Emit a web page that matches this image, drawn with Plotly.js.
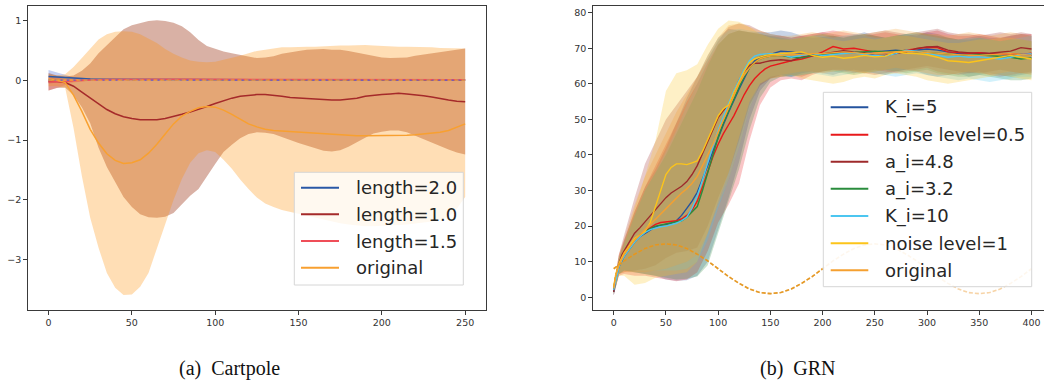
<!DOCTYPE html>
<html><head><meta charset="utf-8">
<script src="https://cdn.plot.ly/plotly-3.0.1.min.js"></script>
<style>html,body{margin:0;padding:0;background:#fff;} #chart{width:1044px;height:385px;}</style>
</head><body><div id="chart"></div>
<script>
// ---------- Left panel (Cartpole) ----------
const xl = [0,5,10,15,20,25,30,35,40,45,50,55,60,65,70,75,80,85,90,95,100,105,110,115,120,125,130,135,140,145,150,155,160,165,170,175,180,185,190,195,200,205,210,215,220,225,230,235,240,245,250];
const len20Mean = [0.06,0.05,0.04,0.03,0.025,0.02,0.018,0.016,0.015,0.014,0.013,0.013,0.012,0.012,0.012,0.011,0.011,0.011,0.01,0.01,0.01,0.01,0.01,0.01,0.01,0.01,0.01,0.01,0.01,0.01,0.01,0.01,0.01,0.01,0.009,0.009,0.009,0.009,0.008,0.008,0.008,0.008,0.007,0.007,0.007,0.006,0.006,0.006,0.005,0.005,0.005];
const len10Mean = [-0.02,-0.02,-0.04,-0.1,-0.2,-0.3,-0.4,-0.49,-0.56,-0.61,-0.64,-0.66,-0.66,-0.66,-0.64,-0.61,-0.57,-0.53,-0.49,-0.44,-0.39,-0.34,-0.3,-0.27,-0.25,-0.24,-0.24,-0.25,-0.27,-0.29,-0.3,-0.31,-0.32,-0.33,-0.33,-0.33,-0.32,-0.3,-0.27,-0.25,-0.24,-0.23,-0.22,-0.23,-0.24,-0.26,-0.28,-0.31,-0.33,-0.35,-0.36];
const len15Mean = [-0.03,-0.03,-0.02,-0.01,0.0,0.005,0.008,0.01,0.012,0.013,0.014,0.015,0.015,0.015,0.015,0.015,0.015,0.015,0.015,0.015,0.015,0.015,0.015,0.015,0.015,0.015,0.014,0.014,0.014,0.014,0.014,0.014,0.013,0.013,0.013,0.013,0.012,0.012,0.012,0.012,0.011,0.011,0.011,0.01,0.01,0.01,0.009,0.009,0.008,0.008,0.008];
const origMeanL = [0.02,0.0,-0.04,-0.25,-0.52,-0.82,-1.05,-1.23,-1.34,-1.39,-1.38,-1.33,-1.22,-1.07,-0.9,-0.73,-0.6,-0.52,-0.46,-0.44,-0.45,-0.5,-0.57,-0.65,-0.73,-0.78,-0.82,-0.84,-0.85,-0.86,-0.87,-0.88,-0.89,-0.9,-0.91,-0.92,-0.92,-0.93,-0.93,-0.93,-0.93,-0.93,-0.92,-0.92,-0.91,-0.9,-0.89,-0.87,-0.84,-0.79,-0.73];
const len10Up = [0.12,0.08,0.06,0.08,0.16,0.28,0.45,0.58,0.72,0.85,0.92,0.96,0.99,1.0,0.99,0.96,0.9,0.8,0.67,0.57,0.52,0.48,0.45,0.42,0.39,0.37,0.38,0.4,0.44,0.47,0.49,0.51,0.52,0.52,0.51,0.51,0.49,0.46,0.43,0.4,0.38,0.37,0.37,0.38,0.41,0.43,0.45,0.48,0.5,0.52,0.53];
const len10Low = [-0.17,-0.13,-0.12,-0.25,-0.45,-0.72,-1.13,-1.45,-1.7,-1.95,-2.12,-2.24,-2.29,-2.3,-2.28,-2.22,-2.08,-1.93,-1.82,-1.6,-1.4,-1.2,-1.08,-0.97,-0.9,-0.87,-0.88,-0.9,-0.95,-1.0,-1.05,-1.1,-1.14,-1.18,-1.19,-1.17,-1.11,-1.04,-0.96,-0.89,-0.86,-0.84,-0.84,-0.87,-0.92,-0.98,-1.04,-1.1,-1.16,-1.21,-1.24];
const origUpL = [0.1,0.08,0.1,0.22,0.37,0.53,0.68,0.77,0.81,0.82,0.81,0.77,0.7,0.62,0.52,0.44,0.38,0.33,0.31,0.3,0.31,0.34,0.38,0.41,0.45,0.49,0.51,0.53,0.55,0.55,0.56,0.56,0.56,0.57,0.57,0.58,0.58,0.59,0.59,0.58,0.57,0.57,0.56,0.56,0.56,0.55,0.55,0.54,0.54,0.53,0.53];
const origLowL = [-0.1,-0.1,-0.13,-0.8,-1.6,-2.3,-2.8,-3.22,-3.47,-3.59,-3.58,-3.45,-3.22,-2.83,-2.4,-2.0,-1.65,-1.38,-1.22,-1.17,-1.2,-1.33,-1.48,-1.66,-1.82,-1.96,-2.06,-2.12,-2.17,-2.2,-2.23,-2.27,-2.3,-2.33,-2.36,-2.39,-2.41,-2.43,-2.44,-2.44,-2.44,-2.43,-2.42,-2.41,-2.4,-2.38,-2.36,-2.33,-2.28,-2.15,-1.95];
const xsb = [0,5,10,15,20,25,30,35,40,45,50];
const len20Up  = [0.17,0.13,0.08,0.05,0.04,0.03,0.025,0.022,0.02,0.02,0.02];
const len20Low = [-0.06,-0.04,-0.01,0.005,0.008,0.01,0.01,0.01,0.01,0.01,0.008];
const len15Up  = [0.06,0.04,0.02,0.015,0.02,0.022,0.022,0.022,0.022,0.022,0.022];
const len15Low = [-0.17,-0.13,-0.08,-0.04,-0.02,-0.01,0.0,0.003,0.005,0.006,0.006];
const xTargetL = [0,250];
const yTargetL = [0,0];
const leftNames = ['length=2.0','length=1.0','length=1.5','original'];
const leftColors = ['#2a58a6','#a52a2a','#ef4e58','#f8a030'];

// ---------- Right panel (GRN) ----------
const xm = [0,2,5,8,10,15,20,25,30,35,40,45,50,55,60,65,70,75,80,85,90,95,100,105,110,115,120,125,130,135,140,145,150,160,170,180,190,200,210,220,230,240,250,260,270,280,290,300,310,320,330,340,350,360,370,380,390,400];
const ki5Mean  = [1.5,5,8.5,10.5,11.5,13.5,15.5,17,18,19,19.8,20.2,20.4,20.8,21.5,23,25,27,29.5,33,37,41,45,48.5,52,55.5,58.5,61.5,64.5,66.5,67.5,68,68.3,69.2,69,68.5,68.2,68,68.5,69,68.8,68.5,69,69.2,69.5,69.2,69.5,69.8,69.5,69,68.5,68.5,68.8,68.5,68.2,68,68.3,68];
const n05Mean  = [2,5.5,9,11.5,12.5,14.5,16,17.5,18.5,19.5,20.5,21,21.2,21.3,21.5,22,23,24.5,27,31,35.5,39.5,43,46,48.5,51,54,57,59.5,61.5,63,64.2,65,65.8,66.5,67,67.8,69,70.5,69.8,70,69.5,69,68.8,69,69.5,70,70.3,70.2,69,68.8,68.6,68.8,68.5,68.3,68.5,68.2,68.6];
const a48Mean  = [1.5,6,9.5,12,13,15.5,18,19.5,21.2,22.8,24.3,26,28,29.3,30.2,31.2,32.5,34.5,37,40.5,44,47.5,50.5,52.5,54,57.5,61,63.5,65.2,65.8,65.8,66.2,66.5,66.8,66.5,67.5,68,68.5,69,69.3,69,68.8,68,68,68.5,69,70,70.4,70.5,69.5,69,68.8,68.5,68.6,68.8,69.2,70.2,69.8];
const a32Mean  = [2.5,6,9,11,12,14,16,17.5,18.5,19.3,20,20.3,20.5,20.7,21,21.5,22.5,24,25.5,30,35,40,45,49,52.5,56,59,62,64.5,66,67,67.5,67.8,68,67.5,67.3,68,68.3,68.5,68.8,69,69.2,69.2,69,69.3,69.4,69,68.8,68.5,68.2,68,68,68.2,68,67.8,67.5,67,67.3];
const ki10Mean = [2,5,8.5,10.5,11.5,13.5,15.5,17,18.2,19,19.5,19.8,20,20.3,20.8,21.5,22.5,25,28.5,33,38,42.5,47,51,54.5,58,61,64,66.5,67.8,68.3,68.5,68.5,68.3,67.5,68,68.5,68,68.2,68.5,68.8,68.2,68,67.8,68.5,69.5,69.2,68.5,68,67.5,67.8,67.5,67.6,67.3,67,67.5,68.2,68.5];
const n1Mean   = [3,6.5,9.5,11.5,12.5,14.5,16.5,17.5,18.5,21,25.5,30,34.5,36.5,37.5,37.5,37.3,37.8,38.3,41,44.5,48,51,53,54,57.5,60.5,63.5,66,67,67.5,68,68.2,68.5,68.8,69,68,67.5,67.8,67.2,67.5,68,67.6,67.8,69,68.6,68.5,68.2,67.5,66.5,66.3,66,66.5,67,67.3,68,67.5,67];
const origMeanR= [2.5,6,9,11,12,14,16,17.5,19,20.5,22,23.5,25,26.5,28,29.3,30.5,32,34,37,40,43,46.5,50,53.5,57,60,62.5,64.5,66,67,67.5,67.8,68,68.2,68.5,68.5,68.5,68.8,69,68.8,68.5,68.7,68.8,69,69.2,69,68.8,68.5,68.3,68.2,68,68,68.2,68.5,68.5,68.2,68];
const xb = [0,5,10,20,30,40,50,60,70,80,90,100,110,120,130,140,150,160,170,180,190,200,210,220,230,240,250,260,270,280,290,300,310,320,330,340,350,360,370,380,390,400];
const ki5Up  = [3,11,16,24,31,36,42,49,56,62,68,73,75.5,75,74.5,74.5,74.5,75,74.5,73.5,73,73.2,73.5,73,73.8,74.5,73.5,73,73.5,74,73.5,74.5,74,73,72.5,73,73.5,73,72.8,73.5,74,73.5];
const ki5Low = [0.5,6.5,7.5,7,6.5,6,5,4.6,4.8,6,10,19,28,38,50,58,61.5,62.5,62,63,63.5,63,62.5,63.5,64,63.5,63,62.5,63.5,64,63.5,62.5,62,62.5,63,62,62.5,63,62.5,62,62.5,63];
const n05Up  = [3.5,12,16,24,31,37,43,49,55,60,66,71,74,75,74.5,74,73.5,73.5,73,73.5,74,74.5,75,74.5,74,73.5,74,74.5,74,73.5,74,74.5,75,74,73.5,73.5,74,73.5,73,73.5,74,74];
const n05Low = [0.5,6,6.5,6,6,5.5,5,4.5,5,7,13,21,26,32,44,54,59,61,61.5,61,62.5,63.5,64,63.5,63,63.5,64,63.5,63,63.5,64,64.5,63.5,63,62.5,63,63.5,62.5,62,62.5,63,63];
const a48Up  = [3,12,17.5,28,37.5,44,50,54,58,62,67,72,76,77,76.5,75,74,73.5,73,73.5,74,74.5,74,73.5,73.5,74,74.5,75,74.5,74,74.5,75,75.5,74.5,74,74,73.5,74,74.5,74,74.5,74];
const a48Low = [0.5,6.5,7,7.5,8,9,11,12.5,13,14,20,28,35,44,54,59.5,61.5,62,62.5,62,63,63.5,64,64,63.5,63,62.5,63,63.5,64,64.5,65,64.5,64,63.5,63,63,63.5,64,63.5,63,63.5];
const a32Up  = [3.5,11,15,23,30,35,40,46,52,58,65,71,74,75,74.5,74,73.5,73,72.5,73,73.5,74,73.5,73,73.5,74,73.5,73,73.5,74,74.5,74,73.5,73,72.5,72.5,73,72.5,72,72.5,72.5,72];
const a32Low = [1,6.5,7.5,7,6.5,6,5.5,5,5.2,5.8,9,18,27,36,47,56,60.5,62,62,62.5,63,63.5,63.5,63,62.5,63,63.5,64,63.5,63,63.5,64,63,62.5,62,62,62.5,62,61.5,61,61,61.5];
const ki10Up  = [3,11,15,23,30,35,41,47,54,60,67,72.5,75,75.5,75,74.5,74,73.5,73,73,73.5,73.5,73,73.5,74,73.5,73,73,73.5,74,74,73.5,73,72.5,72.5,73,73,72.5,72,72.5,73,73.5];
const ki10Low = [0.5,6.5,7.5,7.5,7.5,7.5,7.5,7.5,8,10,16,25,33,42,53,60,62,62.5,62,62.5,63,62.5,62,62.5,63,63.5,63,62.5,62,62.5,63,62.5,62,61.5,61,61.5,61,60.5,61,61.5,62,62];
const n1Up  = [3.5,11,15,25,34,44,58,63,63.8,65.5,71,75.5,77.8,77.5,76,74,73,72.5,72.5,73,73.5,73,72.5,72,72.5,73,72.5,73,73.5,73.5,73,72.5,72,71.5,71.5,72,72.5,72.5,73,73,72.5,72];
const n1Low = [1,6,6,3.5,4,5.5,6,6.5,7,10,18,27,35,45,55,60,61.5,62,62.5,61.5,61,60.5,60,60.5,61.5,62,61.5,62.5,63,62.5,62,61,60.5,60,60.5,61,61.5,62,62.5,62,61.5,61];
const origUpR  = [3.5,12,16.5,26,34,40,46,52,57,62,68,73,76.5,77,76,75,74,73.5,73.5,74,74.5,74,74.5,75,74.5,74,74.5,75,75.5,75,74.5,74,74,73.5,74,74.5,74,73.5,74,74.5,74,73.5];
const origLowR = [1,6.5,7,7,7,7.5,8,9,10,12,18,26,33,42,53,60,62,62.5,63,63.5,63.5,63,63.5,64,63.5,63,63.5,64,64.5,64,63.5,63,62.5,62.5,63,63.5,63,62.5,63,63.5,63,62.5];
const xTargetR = [0,10,20,30,40,50,60,70,80,90,100,110,120,130,140,150,160,170,180,190,200,210,220,230,240,250,260,270,280,290,300,310,320,330,340,350,360,370,380,390,400];
const yTargetR = [8,10.2,12.1,13.7,14.7,15,14.7,13.7,12.1,10.2,8,5.8,3.9,2.3,1.3,1,1.3,2.3,3.9,5.8,8,10.2,12.1,13.7,14.7,15,14.7,13.7,12.1,10.2,8,5.8,3.9,2.3,1.3,1,1.3,2.3,3.9,5.8,8];
const rightNames = ['K_i=5','noise level=0.5','a_i=4.8','a_i=3.2','K_i=10','noise level=1','original'];
const rightColors = ['#24539e','#e8191b','#9e2a2b','#2a8c3c','#4cc6f0','#fcc41a','#f5a030'];
const rightFill = ['rgba(36,83,158,0.25)','rgba(232,25,27,0.25)','rgba(158,42,43,0.25)','rgba(42,140,60,0.25)','rgba(76,198,240,0.25)','rgba(252,196,26,0.25)','rgba(245,160,48,0.25)'];
const captions = ['(a)\u00a0\u00a0Cartpole','(b)\u00a0\u00a0GRN'];

// ---------- build ----------
const W = 1044, H = 385;
const X = p => p / W, Y = p => (H - p) / H;
function band(x, u, l, color, xa, ya) {
  return {type:'scatter', mode:'lines', x: x.concat(x.slice().reverse()), y: u.concat(l.slice().reverse()),
    fill:'toself', fillcolor: color, line:{width:0}, hoverinfo:'skip', xaxis:xa, yaxis:ya};
}
function ln(x, y, color, xa, ya, w, dash) {
  return {type:'scatter', mode:'lines', x:x, y:y, line:{color:color, width:w||1.5, dash:dash||'solid'}, hoverinfo:'skip', xaxis:xa, yaxis:ya};
}
const traces = [];
// left bands
traces.push(band(xsb, len20Up, len20Low, 'rgba(60,100,220,0.3)', 'x', 'y'));
traces.push(band(xl, len10Up, len10Low, 'rgba(160,60,30,0.4)', 'x', 'y'));
traces.push(band(xsb, len15Up, len15Low, 'rgba(240,80,90,0.3)', 'x', 'y'));
traces.push(band(xl, origUpL, origLowL, 'rgba(255,140,0,0.29)', 'x', 'y'));
// left lines
traces.push(ln(xl, len20Mean, leftColors[0], 'x', 'y'));
traces.push(ln(xl, len10Mean, leftColors[1], 'x', 'y'));
traces.push(ln(xl, len15Mean, leftColors[2], 'x', 'y'));
traces.push(ln(xl, origMeanL, leftColors[3], 'x', 'y'));
traces.push(ln(xTargetL, yTargetL, '#6a5acd', 'x', 'y', 1.2, 'dot'));
traces.push(ln(xTargetL, yTargetL, '#f5a030', 'x', 'y', 1.2, '4px,3px'));
// right bands
const rb = [[ki5Up,ki5Low],[n05Up,n05Low],[a48Up,a48Low],[a32Up,a32Low],[ki10Up,ki10Low],[n1Up,n1Low],[origUpR,origLowR]];
rb.forEach((b,i) => traces.push(band(xb, b[0], b[1], rightFill[i], 'x2', 'y2')));
const rm = [ki5Mean, n05Mean, a48Mean, a32Mean, ki10Mean, n1Mean, origMeanR];
rm.forEach((m,i) => traces.push(ln(xm, m, rightColors[i], 'x2', 'y2', 1.4)));
traces.push(ln(xTargetR, yTargetR, 'rgba(240,170,80,0.5)', 'x2', 'y2', 1.6, '4px,2px'));
traces.push(ln(xTargetR.slice(0,21), yTargetR.slice(0,21), 'rgba(228,150,30,0.95)', 'x2', 'y2', 1.6, '4px,2px'));

const axBase = {showgrid:false, zeroline:false, showline:true, mirror:true, linecolor:'#3a3a3a', linewidth:1,
  ticks:'outside', ticklen:3.5, tickwidth:1, tickcolor:'#3a3a3a',
  tickfont:{family:'DejaVu Sans', size:9.5, color:'#333'}, fixedrange:true};
const yDom = [Y(310), Y(6)];
const layout = {
  width:W, height:H, margin:{l:0,r:0,t:0,b:0}, paper_bgcolor:'#fff', plot_bgcolor:'#fff', showlegend:false,
  xaxis: Object.assign({}, axBase, {domain:[X(27.7), X(486)], range:[-12.5, 262.5], tickvals:[0,50,100,150,200,250], anchor:'y'}),
  yaxis: Object.assign({}, axBase, {domain:yDom, range:[-3.84, 1.24], tickvals:[-3,-2,-1,0,1], anchor:'x'}),
  xaxis2: Object.assign({}, axBase, {domain:[X(592.7), X(1043.5)], range:[-20.1, 411.5], tickvals:[0,50,100,150,200,250,300,350,400], anchor:'y2'}),
  yaxis2: Object.assign({}, axBase, {domain:yDom, range:[-3.6, 81.9], tickvals:[0,10,20,30,40,50,60,70,80], anchor:'x2'}),
  shapes: [], annotations: []
};
function legend(box, rows, lx0, lx1, tx, names, colors) {
  layout.shapes.push({type:'rect', xref:'paper', yref:'paper', x0:X(box[0]), x1:X(box[1]), y0:Y(box[3]), y1:Y(box[2]),
    fillcolor:'rgba(255,255,255,0.8)', line:{color:'#d6d6d6', width:1}, layer:'above'});
  names.forEach((n,i) => {
    layout.shapes.push({type:'line', xref:'paper', yref:'paper', x0:X(lx0), x1:X(lx1), y0:Y(rows[i]), y1:Y(rows[i]),
      line:{color:colors[i], width:2}, layer:'above'});
    layout.annotations.push({xref:'paper', yref:'paper', x:X(tx), y:Y(rows[i]), xanchor:'left', yanchor:'middle',
      text:n, showarrow:false, font:{family:'DejaVu Sans', size:18, color:'#262626'}});
  });
}
legend([294.3, 463.3, 172.3, 285], [187.7, 214.3, 241, 267.7], 301, 339, 354, leftNames, leftColors);
legend([823.3, 1031.7, 92.3, 286.7], [107.3, 134.7, 161.7, 188.7, 216, 243.3, 270.3], 830.7, 868.3, 882.7, rightNames, rightColors);
layout.annotations.push({xref:'paper', yref:'paper', x:X(229), y:Y(368), xanchor:'center', yanchor:'middle', text:captions[0], showarrow:false, font:{family:'Liberation Serif', size:20, color:'#111'}});
layout.annotations.push({xref:'paper', yref:'paper', x:X(798), y:Y(368), xanchor:'center', yanchor:'middle', text:captions[1], showarrow:false, font:{family:'Liberation Serif', size:20, color:'#111'}});

Plotly.newPlot('chart', traces, layout, {staticPlot:true, displayModeBar:false});
</script></body></html>
